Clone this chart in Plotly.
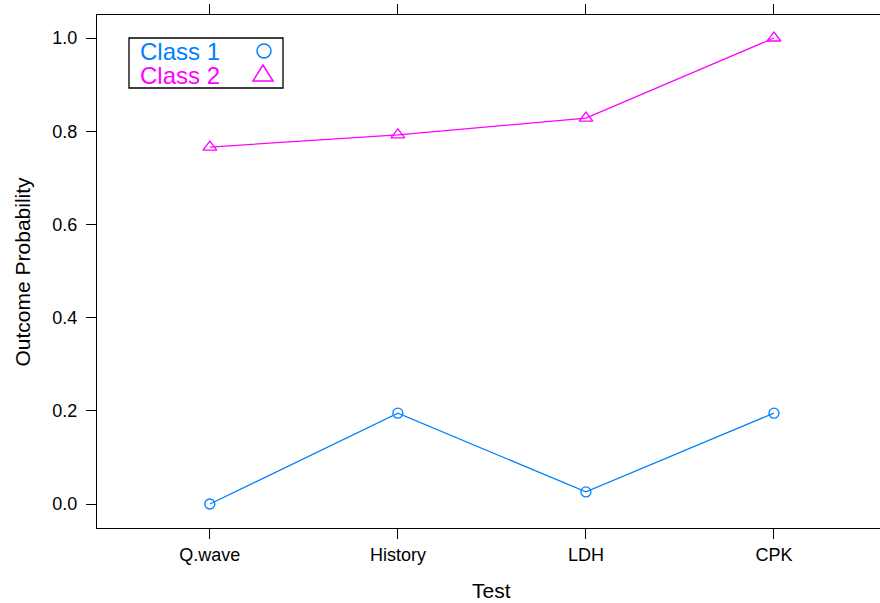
import plotly.graph_objects as go

# Outcome probabilities per diagnostic test
tests = ["Q.wave", "History", "LDH", "CPK"]
class1 = [0.0, 0.195, 0.026, 0.195]
class2 = [0.766, 0.792, 0.828, 1.0]
series_names = ["Class 1", "Class 2"]
y_ticks = [0.0, 0.2, 0.4, 0.6, 0.8, 1.0]

BLUE = "#0080ff"
MAGENTA = "#ff00ff"
FONT = "Liberation Sans, Arial, Helvetica, sans-serif"

W, H = 880, 603
L, R, T, B = 97, 0, 15, 75
plot_w = W - L - R
plot_h = H - T - B


def px_x(x):
    return (x - L) / plot_w


def px_y(y):
    return (H - B - y) / plot_h


fig = go.Figure()
fig.add_trace(go.Scatter(
    x=list(range(len(tests))), y=class1, mode="lines+markers",
    name=series_names[0],
    line=dict(color=BLUE, width=1.3),
    marker=dict(symbol="circle-open", size=10, color=BLUE, line=dict(width=1.3)),
))
fig.add_trace(go.Scatter(
    x=list(range(len(tests))), y=class2, mode="lines+markers",
    name=series_names[1],
    line=dict(color=MAGENTA, width=1.3),
    marker=dict(symbol="triangle-up-open", size=12, color=MAGENTA,
                line=dict(width=1.3)),
))

# Legend box with symbols to the right of the labels
box = dict(x0=px_x(129), x1=px_x(283), y0=px_y(88), y1=px_y(38))
shapes = [
    dict(type="rect", xref="paper", yref="paper", **box,
         line=dict(color="black", width=1.3), fillcolor="white", layer="above"),
    dict(type="circle", xref="paper", yref="paper",
         xsizemode="pixel", ysizemode="pixel",
         xanchor=px_x(264), yanchor=px_y(51),
         x0=-7, x1=7, y0=-7, y1=7,
         line=dict(color=BLUE, width=1.5), layer="above"),
    dict(type="path", xref="paper", yref="paper",
         xsizemode="pixel", ysizemode="pixel",
         xanchor=px_x(263), yanchor=px_y(74),
         path="M -10 -7 L 10 -7 L 0 9 Z",
         line=dict(color=MAGENTA, width=1.5), layer="above"),
]

legend_label = dict(xref="paper", yref="paper", xanchor="left",
                    yanchor="middle", valign="middle", height=23,
                    borderpad=0, showarrow=False)
annotations = [
    dict(text=series_names[0], x=px_x(139), y=px_y(51.5),
         font=dict(family=FONT, size=24, color=BLUE), **legend_label),
    dict(text=series_names[1], x=px_x(139), y=px_y(75.5),
         font=dict(family=FONT, size=24, color=MAGENTA), **legend_label),
    # axis titles
    dict(text="Outcome Probability", xref="paper", yref="paper",
         x=px_x(22), y=0.5, xanchor="center", yanchor="middle",
         textangle=-90, showarrow=False,
         font=dict(family=FONT, size=21, color="black")),
    dict(text="Test", xref="x", yref="paper",
         x=1.5, y=px_y(590.5), xanchor="center", yanchor="middle",
         showarrow=False, font=dict(family=FONT, size=21, color="black")),
]

fig.update_layout(
    width=W, height=H,
    margin=dict(l=L, r=R, t=T, b=B, pad=0),
    plot_bgcolor="white", paper_bgcolor="white",
    showlegend=False,
    font=dict(family=FONT, size=18, color="black"),
    shapes=shapes,
    annotations=annotations,
    xaxis=dict(
        tickmode="array", tickvals=list(range(len(tests))), ticktext=tests,
        range=[-0.6, 3 + (W - 774) / 188],
        showgrid=False, zeroline=False,
        showline=True, linecolor="black", linewidth=1.3, mirror="ticks",
        ticks="outside", ticklen=10, tickwidth=1.3, tickcolor="black",
        tickfont=dict(family=FONT, size=18, color="black"),
    ),
    yaxis=dict(
        tickmode="array", tickvals=y_ticks,
        ticktext=[f"{v:.1f}" for v in y_ticks],
        range=[-0.0515, 1.0494],
        showgrid=False, zeroline=False,
        showline=True, linecolor="black", linewidth=1.3,
        ticks="outside", ticklen=10, tickwidth=1.3, tickcolor="black",
        ticklabelstandoff=5,
        tickfont=dict(family=FONT, size=18, color="black"),
    ),
)

fig.write_html("out.html")
